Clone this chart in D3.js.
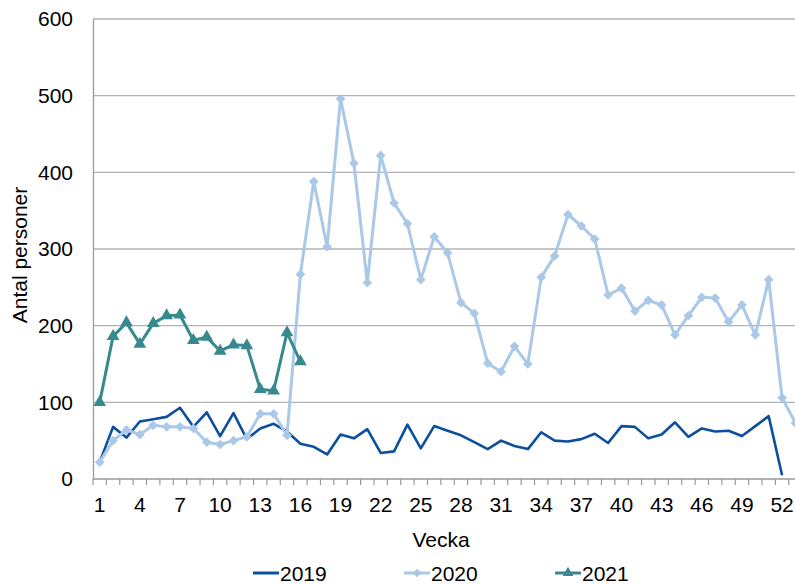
<!DOCTYPE html>
<html><head><meta charset="utf-8">
<script src="https://cdn.jsdelivr.net/npm/d3@7"></script>
<style>body{margin:0;background:#fff}svg{display:block;font-family:"Liberation Sans",Arial,sans-serif}</style>
</head><body>
<svg id="c" width="795" height="585"></svg>
<script>
const weeks = d3.range(1, 54);
const xTickLabels = [1,4,7,10,13,16,19,22,25,28,31,34,37,40,43,46,49,52];
const yTicks = [0,100,200,300,400,500,600];
const seriesNames = ["2019","2020","2021"];
const v2019 = [22,68,54,75,78,81,93,68,87,56,86,52,66,72,62,46,42,32,58,53,65,34,36,71,40,69,63,57,48,39,50,43,39,61,50,49,52,59,47,69,68,53,58,74,55,66,62,63,56,69,82,5];
const v2020 = [22,50,64,58,70,68,68,66,48,45,50,55,85,85,57,267,388,303,496,412,256,422,360,333,260,316,295,230,216,151,140,173,150,263,291,345,330,313,240,249,219,233,227,188,213,237,236,205,227,188,260,106,73];
const v2021 = [100,186,204,176,203,213,214,181,185,167,175,174,117,115,191,153];
const colors = ["#0c4f9c","#aac8e8","#37898f"];

(function(){
const svg = d3.select("#c");
const FS = 21;
const mLeft = 93, mTop = 19, mBottom = 479, band = 13.38;
const x = d3.scaleBand().domain(weeks).range([mLeft, mLeft + band*weeks.length]).padding(0);
const y = d3.scaleLinear().domain([0,600]).range([mBottom, mTop]);
const cx = d => x(d) + x.bandwidth()/2;

// gridlines
svg.append("g").selectAll("line").data(yTicks.filter(t=>t>0)).join("line")
  .attr("x1", mLeft).attr("x2", 795).attr("y1", d=>y(d)).attr("y2", d=>y(d))
  .attr("stroke", "#b3b3b3").attr("stroke-width", 1.3);

// y axis
const ya = svg.append("g").attr("transform", `translate(${mLeft},0)`)
  .call(d3.axisLeft(y).tickValues(yTicks).tickSize(0).tickPadding(20));
ya.select(".domain").attr("stroke","#999").attr("stroke-width",1.3);
ya.selectAll("text").attr("font-size", FS).attr("fill","#000").attr("font-family","Liberation Sans, Arial, sans-serif");

// x axis line + ticks at band edges
svg.append("line").attr("x1", mLeft).attr("x2", 795).attr("y1", mBottom).attr("y2", mBottom)
  .attr("stroke","#999").attr("stroke-width",1.3);
svg.append("g").selectAll("line").data(weeks).join("line")
  .attr("x1", d=>x(d)).attr("x2", d=>x(d)).attr("y1", mBottom).attr("y2", mBottom+6)
  .attr("stroke","#999").attr("stroke-width",1.2);
svg.append("g").selectAll("text").data(xTickLabels).join("text")
  .attr("x", d=>cx(d)).attr("y", 512).attr("text-anchor","middle")
  .attr("font-size",FS).attr("fill","#000").text(d=>d);

// axis titles
svg.append("text").attr("x", 441).attr("y", 547).attr("text-anchor","middle")
  .attr("font-size",FS).attr("fill","#000").text("Vecka");
svg.append("text").attr("transform","translate(27,255) rotate(-90)").attr("text-anchor","middle")
  .attr("font-size",FS).attr("fill","#000").text("Antal personer");

const line = d3.line().x((d,i)=>cx(weeks[i])).y(d=>y(d));
const data = [v2019, v2020, v2021];
const widths = [2.6, 3, 3];
data.forEach((vals,k)=>{
  svg.append("path").datum(vals).attr("d", line).attr("fill","none")
    .attr("stroke", colors[k]).attr("stroke-width", widths[k]).attr("stroke-linejoin","round");
});
const diamond = d3.symbol().type(d3.symbolDiamond2).size(60);
svg.append("g").selectAll("path").data(v2020).join("path")
  .attr("transform",(d,i)=>`translate(${cx(weeks[i])},${y(d)})`)
  .attr("d", diamond).attr("fill", colors[1]);
const tri = d3.symbol().type(d3.symbolTriangle).size(70);
svg.append("g").selectAll("path").data(v2021).join("path")
  .attr("transform",(d,i)=>`translate(${cx(weeks[i])},${y(d)})`)
  .attr("d", tri).attr("fill", colors[2]);

// legend
const lx = [253, 404, 555];
seriesNames.forEach((n,k)=>{
  const g = svg.append("g").attr("transform",`translate(${lx[k]},573)`);
  g.append("line").attr("x1",0).attr("x2",26).attr("stroke",colors[k]).attr("stroke-width",3);
  if (k===1) g.append("path").attr("transform","translate(13,0)").attr("d", d3.symbol().type(d3.symbolDiamond2).size(45)).attr("fill",colors[1]);
  if (k===2) g.append("path").attr("transform","translate(13,0)").attr("d", d3.symbol().type(d3.symbolTriangle).size(50)).attr("fill",colors[2]);
  g.append("text").attr("x",27).attr("y",8).attr("font-size",FS).attr("fill","#000").text(n);
});
})();
</script>
</body></html>
